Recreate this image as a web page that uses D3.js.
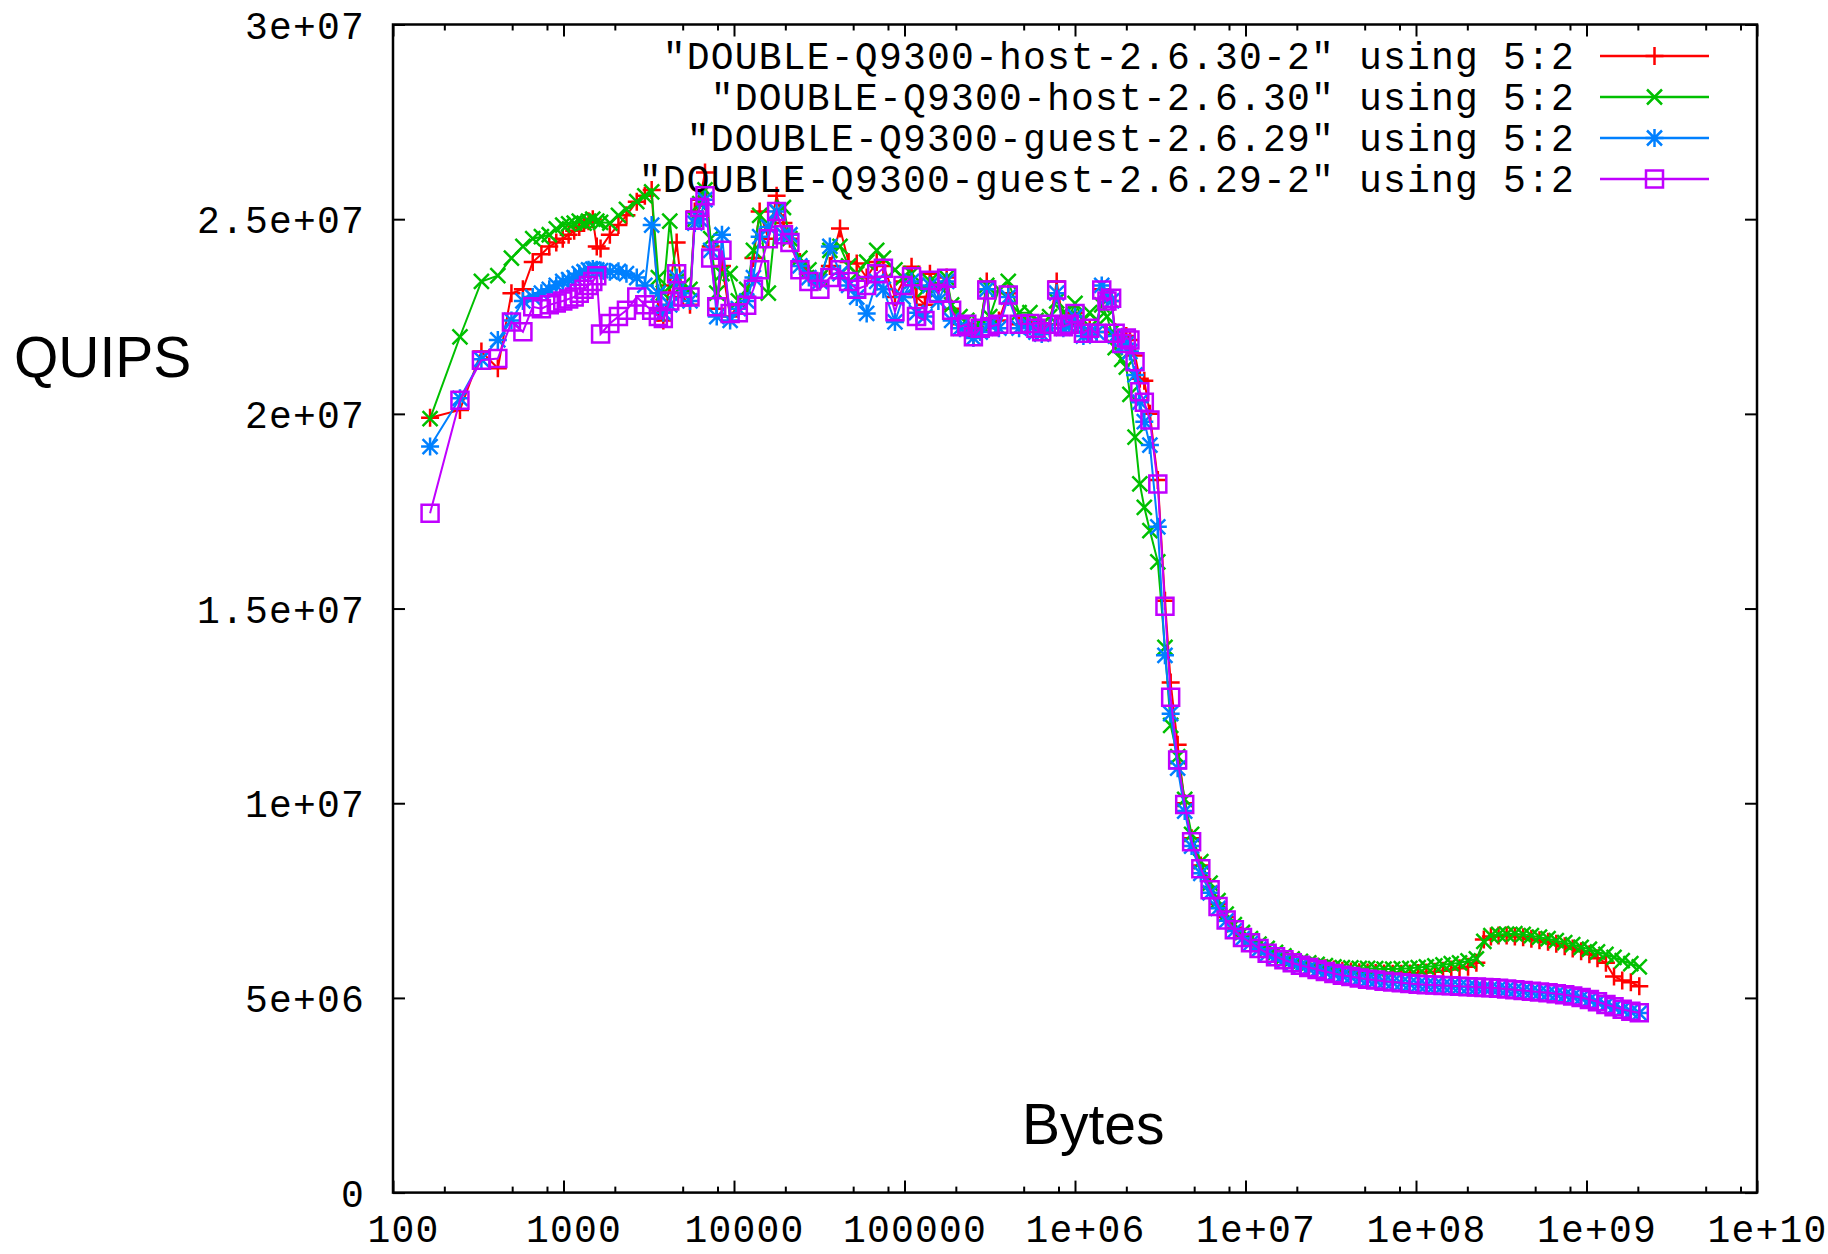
<!DOCTYPE html>
<html><head><meta charset="utf-8">
<script src="https://cdn.jsdelivr.net/npm/d3@7"></script>
<style>html,body{margin:0;padding:0;background:#fff;}svg{display:block;}</style>
</head><body>
<svg id="chart" width="1828" height="1254"></svg>
<script>
// x values (bytes)
const bytes = [
  165, 247, 330, 412, 495, 578, 660, 742, 825, 907,
  990, 1072, 1155, 1237, 1320, 1402, 1485, 1567, 1650, 1870,
  2100, 2340, 2690, 3000, 3290, 3600, 3850, 4200, 4610, 5000,
  5520, 5890, 6300, 6760, 7300, 7920, 8500, 9490, 10600, 11870,
  13000, 14140, 15900, 17780, 19500, 21280, 24350, 27500, 31900, 36500,
  41860, 47000, 52450, 60000, 68700, 75200, 87900, 98000, 110000, 117600,
  131800, 141000, 158000, 176700, 189000, 211700, 232000, 253600, 278000, 303700,
  316500, 358000, 406000, 470000, 544000, 590000, 638000, 710000, 781000, 854000,
  925000, 1.0e6, 1.12e6, 1.22e6, 1.34e6, 1.435e6, 1.54e6, 1.64e6, 1.72e6, 1.88e6,
  2.0e6, 2.1e6, 2.25e6, 2.4e6, 2.55e6, 2.75e6, 3.06e6, 3.37e6, 3.64e6, 4.0e6,
  4.4e6, 4.83e6, 5.47e6, 6.2e6, 6.9e6, 7.7e6, 8.6e6, 9.6e6, 1.07e7, 1.2e7,
  1.34e7, 1.5e7, 1.68e7, 1.88e7, 2.1e7, 2.35e7, 2.63e7, 2.94e7, 3.3e7, 3.7e7,
  4.15e7, 4.65e7, 5.2e7, 5.8e7, 6.5e7, 7.3e7, 8.2e7, 9.2e7, 1.03e8, 1.15e8,
  1.29e8, 1.44e8, 1.61e8, 1.8e8, 2.02e8, 2.26e8, 2.5e8, 2.75e8, 3.05e8, 3.4e8,
  3.8e8, 4.25e8, 4.75e8, 5.3e8, 5.95e8, 6.65e8, 7.45e8, 8.3e8, 9.3e8, 1.04e9,
  1.16e9, 1.3e9, 1.45e9, 1.62e9, 1.82e9, 2.04e9
];

// QUIPS values, in millions
const hostQ30_2 = [
  19.9, 20.1, 21.6, 21.17, 23.1, 23.2, 23.9, 24.1, 24.3, 24.4,
  24.5, 24.6, 24.7, 24.8, 24.9, 24.95, 25.0, 24.3, 24.25, 24.6,
  24.85, 25.1, 25.45, 25.6, 25.75, 22.6, 22.4, 23.3, 24.4, 23.0,
  22.8, 25.2, 25.5, 26.2, 24.3, 22.7, 23.8, 22.5, 22.8, 23.0,
  24.0, 25.2, 24.5, 25.6, 24.9, 24.5, 23.9, 23.6, 23.4, 23.8,
  24.76, 23.9, 23.86, 23.5, 23.9, 23.8, 23.0, 23.4, 23.78, 23.0,
  22.8, 23.6, 23.2, 23.5, 22.7, 22.3, 22.3, 22.0, 22.2, 23.4,
  22.3, 22.4, 23.1, 22.3, 22.4, 22.2, 22.2, 22.3, 23.4, 22.3,
  22.3, 22.6, 22.1, 22.2, 22.1, 23.2, 23.0, 22.9, 22.1, 21.95,
  22.0, 21.9, 21.5, 20.9, 20.85, 20.0, 18.3, 15.2, 13.1, 11.5,
  10.0, 9.1, 8.4, 7.85, 7.42, 7.08, 6.8, 6.6, 6.45, 6.32,
  6.2, 6.1, 6.02, 5.95, 5.89, 5.84, 5.8, 5.76, 5.73, 5.7,
  5.68, 5.66, 5.65, 5.64, 5.63, 5.62, 5.62, 5.63, 5.64, 5.65,
  5.67, 5.7, 5.73, 5.76, 5.8, 5.9, 6.5, 6.58, 6.6, 6.6,
  6.58, 6.56, 6.52, 6.48, 6.44, 6.39, 6.33, 6.27, 6.2, 6.12,
  6.02, 5.9, 5.55, 5.45, 5.4, 5.3
];
const hostQ30 = [
  19.88, 21.98, 23.4, 23.55, 24.0, 24.3, 24.5, 24.55, 24.6, 24.75,
  24.85, 24.88, 24.9, 24.95, 24.9, 24.95, 25.0, 24.95, 24.92, 24.9,
  25.1, 25.25, 25.45, 25.6, 25.7, 23.5, 23.1, 24.95, 23.4, 23.3,
  23.2, 25.0, 25.4, 25.75, 24.5, 23.1, 23.6, 23.6, 22.9, 23.2,
  24.2, 25.1, 23.1, 25.2, 25.3, 24.5, 24.0, 23.7, 23.5, 24.2,
  24.3, 23.8, 23.6, 23.9, 24.2, 24.0, 23.7, 23.5, 23.6, 23.3,
  23.2, 23.4, 23.3, 23.5, 22.8, 22.5, 22.4, 22.2, 22.3, 23.3,
  22.5, 23.2, 23.4, 22.6, 22.6, 22.4, 22.3, 22.5, 22.9, 22.6,
  22.5, 22.84, 22.4, 22.6, 22.4, 22.8, 22.5, 22.1, 21.7, 21.4,
  21.2, 20.5, 19.4, 18.2, 17.6, 17.0, 16.2, 14.0, 12.0, 11.2,
  10.1, 9.2, 8.5, 7.95, 7.5, 7.15, 6.88, 6.68, 6.52, 6.38,
  6.27, 6.17, 6.08, 6.0, 5.94, 5.9, 5.86, 5.83, 5.8, 5.78,
  5.77, 5.76, 5.76, 5.75, 5.74, 5.74, 5.75, 5.76, 5.78, 5.8,
  5.82, 5.85, 5.88, 5.9, 5.95, 6.0, 6.45, 6.6, 6.63, 6.64,
  6.65, 6.63, 6.6, 6.56, 6.52, 6.47, 6.42, 6.37, 6.3, 6.25,
  6.18, 6.12, 6.04, 5.96, 5.88, 5.8
];
const guestQ29 = [
  19.16, 20.4, 21.4, 21.9, 22.4, 22.9, 23.0, 23.1, 23.2, 23.3,
  23.4, 23.45, 23.5, 23.6, 23.65, 23.7, 23.72, 23.7, 23.68, 23.65,
  23.66, 23.6, 23.5, 23.3, 24.85, 23.1, 22.6, 22.8, 23.5, 23.1,
  22.9, 24.9, 25.0, 25.5, 24.2, 22.5, 24.6, 22.4, 22.7, 22.9,
  23.5, 24.55, 24.8, 25.2, 24.6, 24.6, 23.8, 23.5, 23.4, 24.3,
  23.6, 23.3, 23.0, 22.58, 23.4, 23.2, 22.36, 23.0, 23.4, 22.6,
  22.5, 23.3, 22.9, 23.4, 22.4, 22.2, 22.2, 21.95, 22.1, 23.2,
  22.3, 22.2, 23.0, 22.2, 22.25, 22.1, 22.05, 22.2, 23.1, 22.2,
  22.25, 22.5, 22.0, 22.1, 22.1, 23.3, 23.0, 22.9, 22.0, 21.75,
  21.8, 21.6, 21.0, 20.3, 19.8, 19.2, 17.1, 13.8, 12.3, 10.9,
  9.8, 8.9, 8.2, 7.7, 7.3, 6.98, 6.72, 6.53, 6.4, 6.25,
  6.13, 6.04, 5.96, 5.88, 5.82, 5.76, 5.71, 5.66, 5.61, 5.57,
  5.54, 5.5, 5.47, 5.45, 5.42, 5.4, 5.38, 5.36, 5.34, 5.33,
  5.32, 5.31, 5.3, 5.29, 5.28, 5.27, 5.26, 5.25, 5.24, 5.22,
  5.2, 5.18, 5.16, 5.14, 5.12, 5.1, 5.07, 5.04, 5.0, 4.95,
  4.89, 4.82, 4.76, 4.7, 4.65, 4.61
];
const guestQ29_2 = [
  17.45, 20.35, 21.38, 21.42, 22.36, 22.11, 22.75, 22.7, 22.8, 22.85,
  22.9, 22.95, 23.0, 23.1, 23.2, 23.3, 23.4, 23.55, 22.05, 22.32,
  22.5, 22.66, 23.0, 22.8, 22.66, 22.5, 22.45, 22.9, 23.6, 23.0,
  23.0, 24.97, 25.3, 25.6, 24.0, 22.75, 24.2, 22.58, 22.6, 22.79,
  23.2, 23.7, 24.5, 25.2, 24.6, 24.4, 23.7, 23.4, 23.2, 23.5,
  23.7, 23.4, 23.2, 23.3, 23.6, 23.74, 22.62, 23.3, 23.52, 22.5,
  22.4, 23.43, 23.1, 23.48, 22.66, 22.24, 22.3, 21.98, 22.2, 23.18,
  22.24, 22.3, 23.05, 22.3, 22.32, 22.2, 22.11, 22.3, 23.18, 22.24,
  22.3, 22.58, 22.07, 22.2, 22.07, 23.18, 22.9, 22.97, 22.07, 21.81,
  21.95, 21.9, 21.34, 20.57, 20.3, 19.84, 18.2, 15.06, 12.72, 11.11,
  9.97, 9.01, 8.32, 7.78, 7.35, 7.0, 6.75, 6.55, 6.42, 6.27,
  6.15, 6.06, 5.98, 5.9, 5.84, 5.78, 5.73, 5.68, 5.63, 5.58,
  5.55, 5.51, 5.48, 5.46, 5.43, 5.41, 5.39, 5.37, 5.35, 5.34,
  5.33, 5.32, 5.31, 5.3, 5.29, 5.28, 5.27, 5.26, 5.25, 5.23,
  5.21, 5.19, 5.17, 5.15, 5.13, 5.11, 5.08, 5.05, 5.01, 4.96,
  4.9, 4.83, 4.77, 4.71, 4.66, 4.62
];

const seriesLabels = [
  '"DOUBLE-Q9300-host-2.6.30-2" using 5:2',
  '"DOUBLE-Q9300-host-2.6.30" using 5:2',
  '"DOUBLE-Q9300-guest-2.6.29" using 5:2',
  '"DOUBLE-Q9300-guest-2.6.29-2" using 5:2'
];
const seriesValues = [hostQ30_2, hostQ30, guestQ29, guestQ29_2];
const seriesColors = ["#ff0000", "#00c000", "#0080ff", "#c000ff"];
const seriesMarkers = ["plus", "cross", "star", "square"];

const xTickValues = [1e2, 1e3, 1e4, 1e5, 1e6, 1e7, 1e8, 1e9, 1e10];
const xTickLabels = ["100", "1000", "10000", "100000", "1e+06", "1e+07", "1e+08", "1e+09", "1e+10"];
const xMinorMultipliers = [2, 5, 8];
const yTickValues = [0, 5e6, 1e7, 1.5e7, 2e7, 2.5e7, 3e7];
const yTickLabels = ["0", "5e+06", "1e+07", "1.5e+07", "2e+07", "2.5e+07", "3e+07"];

const L = 393, R = 1757, T = 24.5, B = 1192.6;
const svg = d3.select("#chart");
const x = d3.scaleLog().domain([1e2, 1e10]).range([L, R]);
const y = d3.scaleLinear().domain([0, 3e7]).range([B, T]);
const tickFont = "'Liberation Mono', 'DejaVu Sans Mono', monospace";
const tickSize = 38, tickSpacing = 1.2;

const minorTicks = [];
xTickValues.slice(0, -1).forEach(d => xMinorMultipliers.forEach(m => minorTicks.push(d * m)));

function styleAxis(g) {
  g.select(".domain").remove();
  g.selectAll(".tick line").attr("stroke", "#000").attr("stroke-width", 2);
}
function styleText(sel) {
  sel.attr("font-family", tickFont).attr("font-size", tickSize)
    .attr("letter-spacing", tickSpacing).attr("fill", "#000");
}
svg.append("g").attr("transform", `translate(0,${B})`)
  .call(d3.axisBottom(x).tickValues(xTickValues).tickSize(-12).tickFormat((d, i) => xTickLabels[i]))
  .call(styleAxis)
  .call(g => g.selectAll("text").attr("y", 49).attr("dy", 0).attr("dx", 10).call(styleText));
svg.append("g").attr("transform", `translate(0,${B})`)
  .call(d3.axisBottom(x).tickValues(minorTicks).tickSize(-6).tickFormat(""))
  .call(styleAxis);
svg.append("g").attr("transform", `translate(0,${T})`)
  .call(d3.axisTop(x).tickValues(xTickValues).tickSize(-12).tickFormat(""))
  .call(styleAxis);
svg.append("g").attr("transform", `translate(0,${T})`)
  .call(d3.axisTop(x).tickValues(minorTicks).tickSize(-6).tickFormat(""))
  .call(styleAxis);
svg.append("g").attr("transform", `translate(${L},0)`)
  .call(d3.axisLeft(y).tickValues(yTickValues).tickSize(-12).tickPadding(28).tickFormat((d, i) => yTickLabels[i]))
  .call(styleAxis)
  .call(g => g.selectAll("text").attr("dy", "0.36em").call(styleText));
svg.append("g").attr("transform", `translate(${R},0)`)
  .call(d3.axisRight(y).tickValues(yTickValues).tickSize(-12).tickFormat(""))
  .call(styleAxis);

svg.append("rect").attr("x", L).attr("y", T).attr("width", R - L).attr("height", B - T)
  .attr("fill", "none").attr("stroke", "#000").attr("stroke-width", 2.5);

svg.append("text").attr("x", 14).attr("y", 377).text("QUIPS")
  .attr("font-family", "'Liberation Sans', Arial, sans-serif").attr("font-size", 57).attr("fill", "#000");
svg.append("text").attr("x", 1022).attr("y", 1144).text("Bytes")
  .attr("font-family", "'Liberation Sans', Arial, sans-serif").attr("font-size", 57).attr("fill", "#000");

function markerPath(type) {
  const s = 9, c = 7.5, h = 8.5;
  if (type === "plus") return `M${-s},0H${s}M0,${-s}V${s}`;
  if (type === "cross") return `M${-c},${-c}L${c},${c}M${-c},${c}L${c},${-c}`;
  if (type === "star") return `M${-s},0H${s}M0,${-s}V${s}M${-c},${-c}L${c},${c}M${-c},${c}L${c},${-c}`;
  return `M${-h},${-h}H${h}V${h}H${-h}Z`;
}

const line = d3.line().x(d => x(d[0])).y(d => y(d[1]));
const legendTextX = 1575, legendLineX0 = 1600, legendLineX1 = 1709;
const legendRows = [56, 97, 138, 179];

seriesValues.forEach((vals, si) => {
  const color = seriesColors[si];
  const pts = bytes.map((b, i) => [b, vals[i] * 1e6]);
  const g = svg.append("g");
  g.append("text").attr("x", legendTextX).attr("y", legendRows[si]).attr("dy", "0.34em")
    .attr("text-anchor", "end").call(styleText).text(seriesLabels[si]);
  g.append("line").attr("x1", legendLineX0).attr("x2", legendLineX1)
    .attr("y1", legendRows[si]).attr("y2", legendRows[si])
    .attr("stroke", color).attr("stroke-width", 2.5);
  g.append("path").attr("d", markerPath(seriesMarkers[si]))
    .attr("transform", `translate(${(legendLineX0 + legendLineX1) / 2},${legendRows[si]})`)
    .attr("fill", "none").attr("stroke", color).attr("stroke-width", 2.5);
  g.append("path").attr("d", line(pts)).attr("fill", "none")
    .attr("stroke", color).attr("stroke-width", 2);
  g.selectAll("path.pt").data(pts).enter().append("path").attr("class", "pt")
    .attr("d", markerPath(seriesMarkers[si]))
    .attr("transform", d => `translate(${x(d[0])},${y(d[1])})`)
    .attr("fill", "none").attr("stroke", color).attr("stroke-width", 2.5);
});
</script>
</body></html>
